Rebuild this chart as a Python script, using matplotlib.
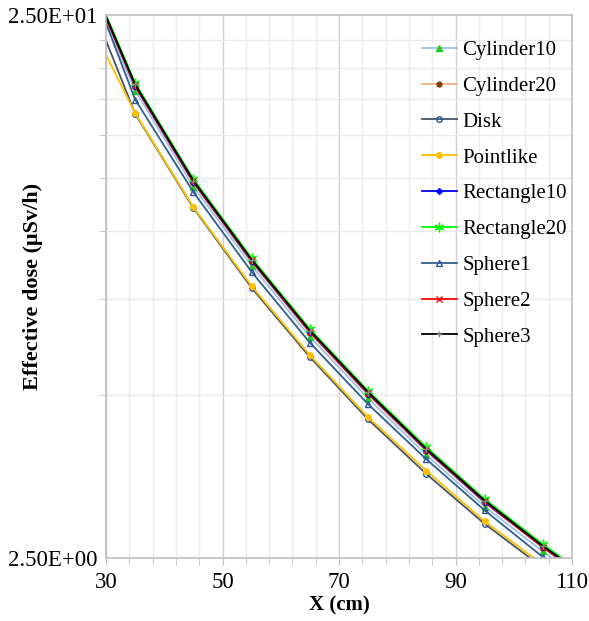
import matplotlib.pyplot as plt
from matplotlib.ticker import FixedLocator, FuncFormatter

# distances (cm) - first and last points fall outside the plotted window
x = [25, 35, 45, 55, 65, 75, 85, 95, 105, 115]

cylinder10 = [32.4, 18.15, 12.08, 8.64, 6.39, 4.92, 3.87, 3.11, 2.57, 2.15]
cylinder20 = [32.8, 18.42, 12.26, 8.77, 6.49, 4.99, 3.93, 3.16, 2.61, 2.18]
disk = [30.6, 16.45, 11.03, 7.86, 5.86, 4.50, 3.57, 2.89, 2.40, 2.03]
pointlike = [27.0, 16.50, 11.07, 7.92, 5.91, 4.54, 3.62, 2.92, 2.43, 2.05]
rectangle10 = [33.0, 18.50, 12.31, 8.81, 6.52, 5.02, 3.95, 3.17, 2.62, 2.19]
rectangle20 = [33.4, 18.74, 12.47, 8.92, 6.60, 5.08, 4.00, 3.21, 2.65, 2.22]
sphere1 = [33.4, 17.47, 11.80, 8.41, 6.23, 4.80, 3.80, 3.06, 2.51, 2.11]
sphere2 = [33.0, 18.54, 12.34, 8.83, 6.53, 5.03, 3.96, 3.18, 2.62, 2.20]
sphere3 = [33.2, 18.62, 12.39, 8.86, 6.56, 5.05, 3.97, 3.19, 2.63, 2.21]

x_major = [30, 50, 70, 90, 110]

plt.rcParams['font.family'] = ['Liberation Serif', 'DejaVu Serif']

fig = plt.figure(figsize=(5.89, 6.21), dpi=100)
ax = fig.add_axes([106/589, 1-558/621, (572-106)/589, (558-15)/621])

series = [
    ("Cylinder10", cylinder10, '#9DC3E6', '^', '#22CC22', '#22CC22', 4),
    ("Cylinder20", cylinder20, '#F4B183', 'o', '#843C0C', '#843C0C', 3.5),
    ("Disk", disk, '#44546A', 'o', 'none', '#2F5597', 4),
    ("Pointlike", pointlike, '#FFC000', 'o', '#FFC000', '#FFC000', 4),
    ("Rectangle10", rectangle10, '#0000FF', 'D', '#0000FF', '#0000FF', 3),
    ("Rectangle20", rectangle20, '#00FF00', (6, 2, 0), '#00FF00', '#00FF00', 7),
    ("Sphere1", sphere1, '#2F5F8F', '^', 'none', '#2F5597', 4.5),
    ("Sphere2", sphere2, '#FF0000', 'x', '#FF0000', '#FF0000', 4),
    ("Sphere3", sphere3, '#000000', '+', '#888888', '#888888', 5),
]

for name, vals, c, m, mfc, mec, ms in series:
    ax.plot(x, vals, color=c, lw=1.3, marker=m, markersize=ms,
            markerfacecolor=mfc, markeredgecolor=mec, markeredgewidth=1,
            label=name)

ax.set_yscale('log')
ax.set_xlim(30, 110)
ax.set_ylim(2.5, 25)

ax.xaxis.set_major_locator(FixedLocator(x_major))
ax.xaxis.set_minor_locator(FixedLocator(list(range(30, 111, 4))))
ax.yaxis.set_major_locator(FixedLocator([2.5, 25]))
ax.yaxis.set_minor_locator(FixedLocator([2.5 * k for k in range(2, 10)]))
ax.yaxis.set_major_formatter(FuncFormatter(lambda v, p: "%.2E" % v))
ax.yaxis.set_minor_formatter(FuncFormatter(lambda v, p: ""))

ax.grid(True, which='major', axis='x', color='#D0D0D0', lw=1.0)
ax.grid(True, which='minor', axis='both', color='#EBEBEB', lw=1.0)
ax.set_axisbelow(True)

for s in ax.spines.values():
    s.set_color('#BFBFBF')
    s.set_linewidth(1.2)

ax.tick_params(which='both', direction='out', color='#BFBFBF', labelsize=16.5)
ax.tick_params(which='major', length=5, pad=5)
ax.tick_params(which='minor', length=5)
ax.tick_params(axis='y', which='major', length=0, pad=6)

ax.set_xlabel("X (cm)", fontsize=15, fontweight='bold', labelpad=2)
ax.set_ylabel("Effective dose (μSv/h)", fontsize=16, fontweight='bold')
ax.yaxis.set_label_coords(-0.135, 0.5)

ax.legend(loc='upper right', bbox_to_anchor=(1.02, 0.98), frameon=False,
          fontsize=15, labelspacing=0.78, handlelength=1.7, handletextpad=0.25,
          borderaxespad=0.3)

fig.savefig('out.png', dpi=100)
